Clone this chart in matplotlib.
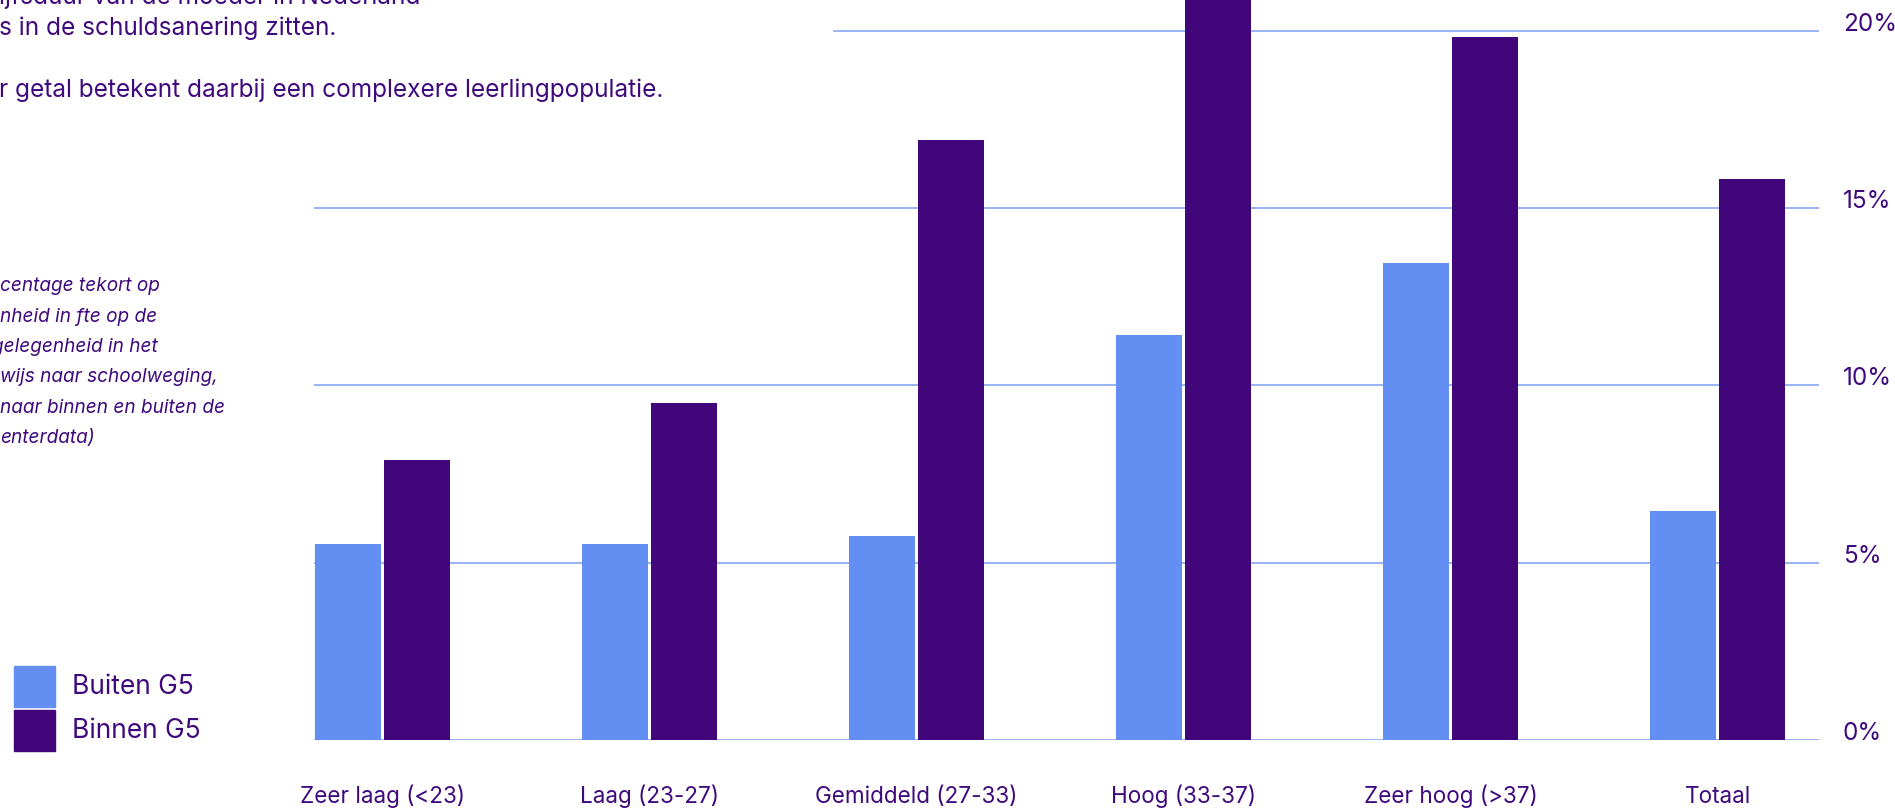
import matplotlib
matplotlib.use("Agg")
import matplotlib.pyplot as plt
from matplotlib.patches import Rectangle
from matplotlib.transforms import blended_transform_factory
import numpy as np

# Schoolweging categories and shortage percentages
categories = ["Zeer laag (<23)", "Laag (23-27)", "Gemiddeld (27-33)",
              "Hoog (33-37)", "Zeer hoog (>37)", "Totaal"]
buiten_g5 = [5.53, 5.53, 5.75, 11.42, 13.46, 6.46]
binnen_g5 = [7.90, 9.51, 16.93, 21.5, 19.83, 15.83]
series_labels = ["Buiten G5", "Binnen G5"]
yticks = [0, 5, 10, 15, 20]
ytick_labels = ["0%", "5%", "10%", "15%", "20%"]

intro_lines = [
    "ijfsduur van de moeder in Nederland",
    "s in de schuldsanering zitten.",
    "",
    "r getal betekent daarbij een complexere leerlingpopulatie.",
]
caption_lines = [
    "centage tekort op",
    "nheid in fte op de",
    "gelegenheid in het",
    "wijs naar schoolweging,",
    "naar binnen en buiten de",
    "enterdata)",
]

LIGHT = "#638ff3"
DARK = "#40067a"
TEXT = "#3f0a7e"
GRID = "#7d9ef3"
FONT = "Inter"

W, H = 1895, 808
fig = plt.figure(figsize=(W / 100, H / 100), dpi=100)
fig.patch.set_facecolor("white")


def fx(px):
    return px / W


def fy(py):
    return 1 - py / H


ax_left, ax_right, ax_bottom = 314, 1819, 740
ax = fig.add_axes([fx(ax_left), fy(ax_bottom), fx(ax_right - ax_left), ax_bottom / H])
ax.set_facecolor("none")

x = np.arange(len(categories))
bw = 0.247
off = 0.129
ax.bar(x - off, buiten_g5, width=bw, color=LIGHT, zorder=3)
ax.bar(x + off, binnen_g5, width=bw, color=DARK, zorder=3)

px_per_unit = 267.0
center0 = 382.5
ax.set_xlim((ax_left - center0) / px_per_unit, (ax_right - center0) / px_per_unit)
ax.set_ylim(0, 20.874)

# gridlines; the top one leaves room for the introduction text
for t in yticks:
    xmin = 0.3455 if t == 20 else 0.0
    ax.axhline(t, xmin=xmin, xmax=1, color=GRID, lw=1.1, zorder=1)

for s in ax.spines.values():
    s.set_visible(False)
ax.set_xticks([])
ax.set_yticks([])

# right-hand percentage labels, baseline on the gridline
ytrans = blended_transform_factory(fig.transFigure, ax.transData)
for t, lab in zip(yticks, ytick_labels):
    fig.text(fx(1843), t, lab, transform=ytrans, fontsize=17.5, color=TEXT,
             family=FONT, ha="left", va="baseline")

# category labels under the bars
xtrans = blended_transform_factory(ax.transData, fig.transFigure)
for xi, lab in zip(x, categories):
    ax.text(xi, fy(803), lab, transform=xtrans, fontsize=16.2, color=TEXT,
            family=FONT, ha="center", va="baseline", clip_on=False)

# introduction text at the top left
for i, line in enumerate(intro_lines):
    if line:
        fig.text(fx(-1), fy(4 + 31 * i), line, fontsize=17.6, color=TEXT,
                 family=FONT, ha="left", va="baseline")

# italic caption
for i, line in enumerate(caption_lines):
    xo = -8 if line.startswith("g") else 0
    fig.text(fx(xo), fy(291 + 30.5 * i), line, fontsize=13.7, color=TEXT,
             family=FONT, style="italic", ha="left", va="baseline")

# legend
for i, (lab, col) in enumerate(zip(series_labels, [LIGHT, DARK])):
    top = 666 + 44 * i
    fig.patches.append(Rectangle((fx(14), fy(top + 41)), fx(41), 41 / H,
                                 transform=fig.transFigure, color=col))
    fig.text(fx(72), fy(top + 20.5), lab, fontsize=19, color=TEXT,
             family=FONT, ha="left", va="center")

fig.savefig("out.png", dpi=100, facecolor="white")
